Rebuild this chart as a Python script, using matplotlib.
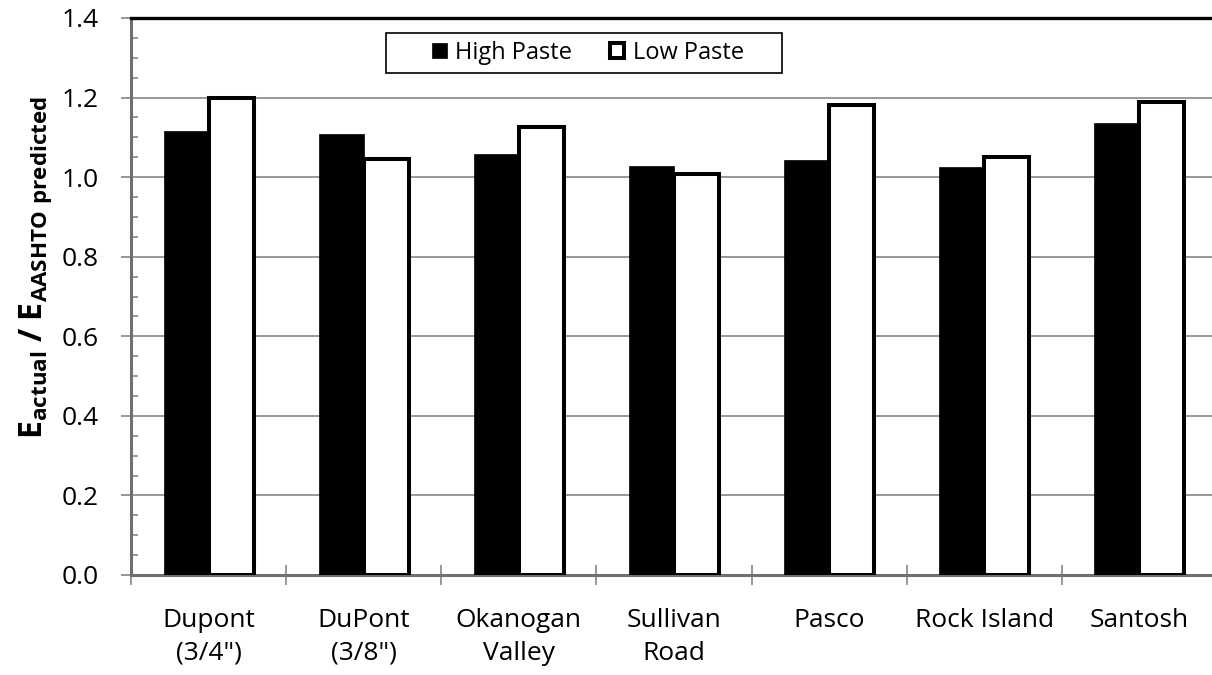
import numpy as np
import matplotlib
matplotlib.use("Agg")
import matplotlib.pyplot as plt
from matplotlib.patches import Rectangle
from matplotlib.ticker import MultipleLocator, FixedLocator

plt.rcParams['font.family'] = ['Open Sans', 'DejaVu Sans']
plt.rcParams['mathtext.fontset'] = 'custom'
plt.rcParams['mathtext.rm'] = 'Open Sans'
plt.rcParams['mathtext.bf'] = 'Open Sans:bold'

# data
categories = ['Dupont\n(3/4")', 'DuPont\n(3/8")', 'Okanogan\nValley', 'Sullivan\nRoad',
              'Pasco', 'Rock Island', 'Santosh']
high_paste = [1.117, 1.109, 1.057, 1.028, 1.042, 1.026, 1.137]
low_paste = [1.200, 1.045, 1.127, 1.008, 1.181, 1.050, 1.190]

W, H = 1212, 675
fig = plt.figure(figsize=(W / 100, H / 100), dpi=100)
ax = fig.add_axes([131 / W, 1 - 575 / H, 1086 / W, 557 / H])

x = np.arange(len(categories))
w = 0.29
ax.bar(x - w / 2, high_paste, w, color='black', edgecolor='black', linewidth=0.5,
       label='High Paste', zorder=3)
ax.bar(x + w / 2, low_paste, w, color='white', edgecolor='black', linewidth=2.9,
       label='Low Paste', zorder=3)

ax.set_xlim(-0.5, 6.5)
ax.set_ylim(0, 1.4)

# y axis
ax.yaxis.set_major_locator(MultipleLocator(0.2))
ax.yaxis.set_minor_locator(MultipleLocator(0.05))
ax.yaxis.set_major_formatter(plt.FuncFormatter(lambda v, p: f'{v:.1f}'))
ax.grid(axis='y', which='major', color='#868686', linewidth=1.2, zorder=0)
ax.tick_params(axis='y', which='major', direction='out', length=7, width=1.2,
               color='#868686', labelsize=19, pad=16)
ax.tick_params(axis='y', which='minor', direction='in', length=5, width=1.2,
               color='#868686')

# x axis: labels at centres, tick marks at category boundaries
ax.set_xticks(x)
ax.set_xticklabels(categories, fontsize=19, linespacing=1.4)
ax.xaxis.set_minor_locator(FixedLocator(np.arange(-0.5, 7.0, 1.0)))
ax.tick_params(axis='x', which='major', length=0, pad=24)
ax.tick_params(axis='x', which='minor', direction='inout', length=14, width=1.2,
               color='#868686')

for s in ['left', 'bottom']:
    ax.spines[s].set_color('#707070')
    ax.spines[s].set_linewidth(2.2)
for s in ['top', 'right']:
    ax.spines[s].set_color('black')
    ax.spines[s].set_linewidth(2.4)

fig.text(36 / W, 1 - 268 / H,
         r'$\mathbf{E_{actual}}$ / $\mathbf{E_{AASHTO\ predicted}}$',
         rotation=90, ha='center', va='center', fontsize=23, fontweight='bold')

# legend: entries without frame, box drawn separately
ax.add_patch(Rectangle((386 / W, 1 - 73 / H), 396 / W, 40 / H,
                       transform=fig.transFigure, facecolor='white',
                       edgecolor='black', linewidth=1.2, zorder=4, clip_on=False))
leg = ax.legend(loc='center', ncol=2, fontsize=17, frameon=False,
                handlelength=0.62, handleheight=0.62, handletextpad=0.35,
                columnspacing=1.6, borderpad=0.2)
leg.set_bbox_to_anchor((588 / W, 1 - 53 / H), transform=fig.transFigure)
leg.set_zorder(5)

fig.savefig('out.png', dpi=100)
